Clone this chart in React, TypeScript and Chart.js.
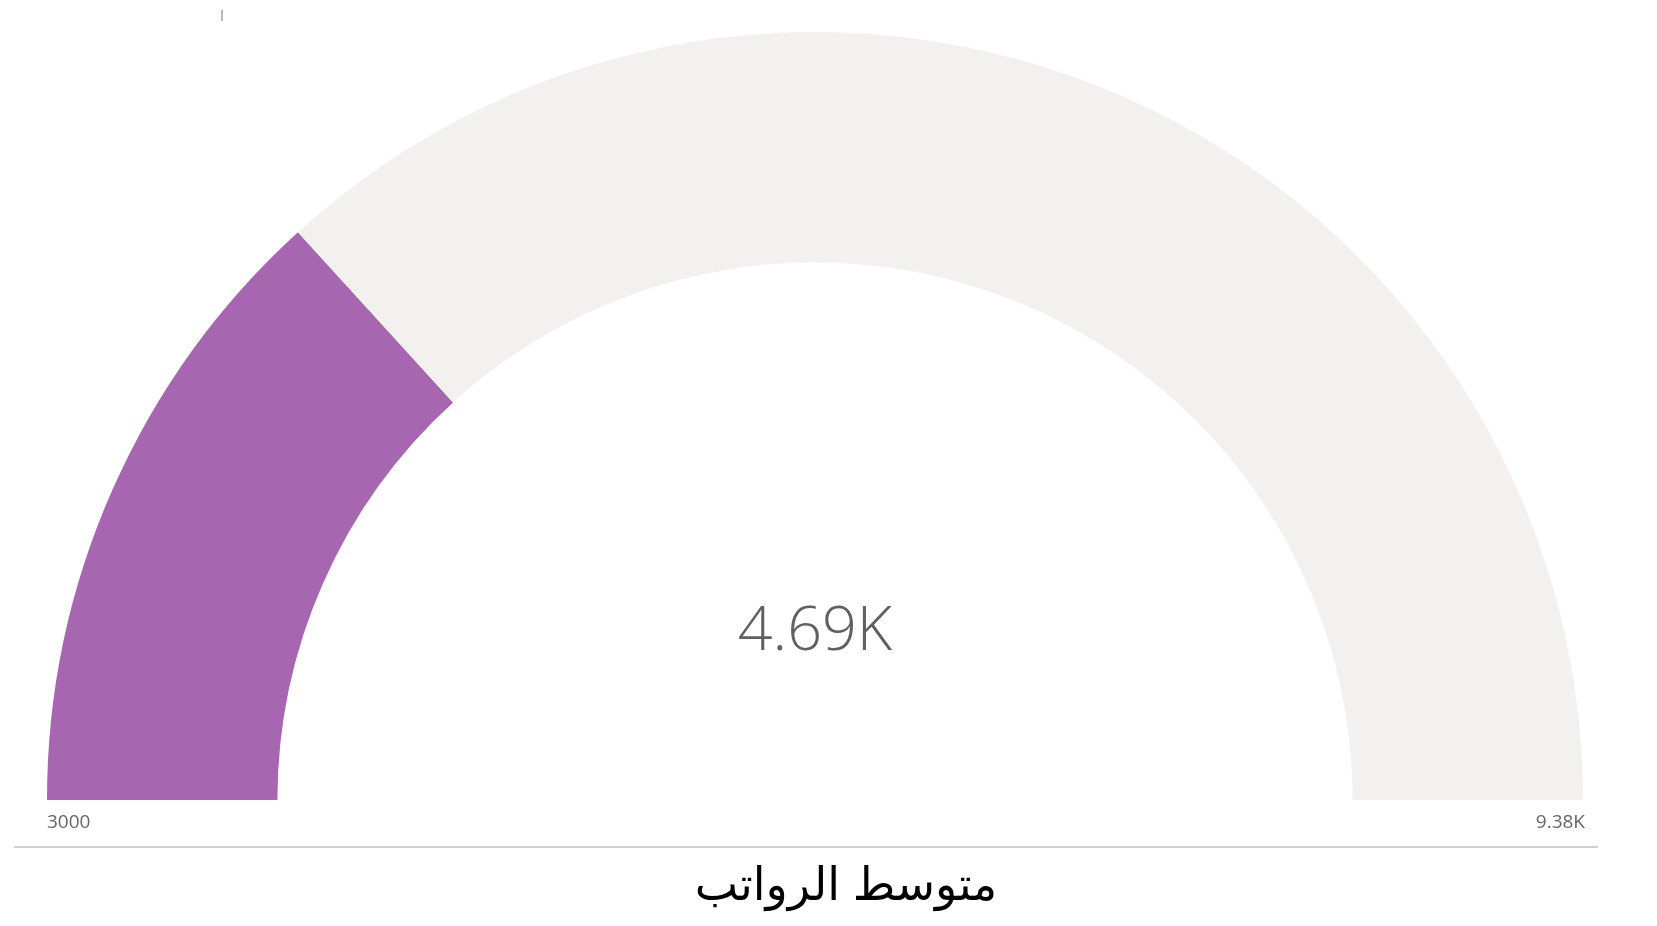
import React, { useEffect, useRef } from "react";
import { Chart, registerables } from "chart.js";

Chart.register(...registerables);

const minValue = 3000;
const maxValue = 9380;
const currentValue = 4690;
const valueLabel = "4.69K";
const minLabel = "3000";
const maxLabel = "9.38K";
const title = "متوسط الرواتب";
const segmentColors = ["#A666B0", "#F2F1F0"];

const W = 1657;
const H = 926;

const overlayPlugin = {
  id: "gaugeOverlay",
  afterDraw(chart: any) {
    const ctx = chart.ctx as CanvasRenderingContext2D;
    const meta = chart.getDatasetMeta(0);
    const arc = meta.data[0] as any;
    const cx = arc.x;
    const outer = arc.outerRadius;
    ctx.save();
    // center value
    ctx.fillStyle = "#606060";
    ctx.font = "300 61px 'Open Sans'";
    ctx.textAlign = "center";
    ctx.textBaseline = "alphabetic";
    ctx.fillText(valueLabel, cx, 650);
    // min/max labels
    ctx.fillStyle = "#666666";
    ctx.font = "19px 'Open Sans'";
    ctx.textAlign = "left";
    ctx.fillText(minLabel, cx - outer, 828);
    ctx.textAlign = "right";
    ctx.fillText(maxLabel, cx + outer + 2, 828);
    // separator line
    ctx.strokeStyle = "#D0D0D0";
    ctx.lineWidth = 2;
    ctx.beginPath();
    ctx.moveTo(14, 847);
    ctx.lineTo(1598, 847);
    ctx.stroke();
    // small tick at top
    ctx.strokeStyle = "#A0A0A0";
    ctx.lineWidth = 1.5;
    ctx.beginPath();
    ctx.moveTo(222, 10);
    ctx.lineTo(222, 21);
    ctx.stroke();
    // title
    ctx.fillStyle = "#000000";
    ctx.font = "46px 'Liberation Sans', 'DejaVu Sans', sans-serif";
    ctx.textAlign = "center";
    ctx.textBaseline = "middle";
    (ctx as any).direction = "rtl";
    ctx.fillText(title, 846, 887);
    ctx.restore();
  },
};

export default function App() {
  const ref = useRef<HTMLCanvasElement | null>(null);
  useEffect(() => {
    if (!ref.current) return;
    const chart = new Chart(ref.current, {
      type: "doughnut",
      data: {
        labels: ["Value", "Remaining"],
        datasets: [
          {
            data: [currentValue - minValue, maxValue - currentValue],
            backgroundColor: segmentColors,
            borderWidth: 0,
          },
        ],
      },
      options: {
        responsive: false,
        animation: false,
        rotation: -90,
        circumference: 180,
        cutout: "70%",
        layout: { padding: { left: 47, top: 32, right: 74, bottom: 126 } },
        plugins: {
          legend: { display: false },
          tooltip: { enabled: false },
        },
      },
      plugins: [overlayPlugin],
    });
    return () => chart.destroy();
  }, []);
  return (
    <div style={{ position: "fixed", left: 0, top: 0, width: W, height: H, background: "#fff" }}>
      <canvas ref={ref} width={W} height={H} style={{ display: "block", width: W, height: H }} />
    </div>
  );
}
